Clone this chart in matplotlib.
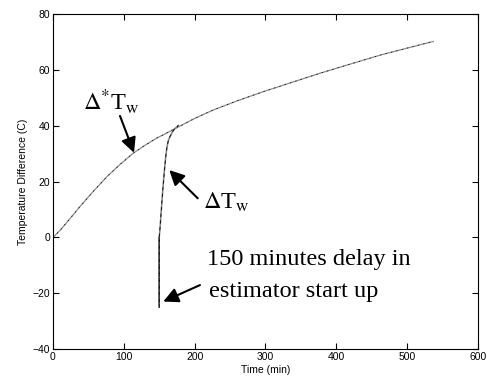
import matplotlib.pyplot as plt

# Delta* T_w (reference curve)
t_ref = [0, 10, 20, 38, 57, 76, 95, 113, 130, 146, 160, 175, 200, 226, 260, 297, 337, 377, 420, 462, 500, 537]
dT_ref = [0, 2.5, 5.5, 11, 16.5, 21.7, 26.2, 30.1, 33.0, 35.5, 37.3, 39.3, 42.6, 45.6, 48.9, 52.2, 55.5, 58.8, 62.1, 65.3, 67.8, 70.2]

# Delta T_w (estimator, started 150 min late)
t_est = [150, 150, 150, 151, 153, 155, 157, 159, 161, 163, 165, 168, 171, 175, 177]
dT_est = [0, -25, 0, 3, 10, 17, 23, 28.5, 32.5, 34.8, 36.0, 37.5, 38.7, 39.6, 40.1]

xticks = [0, 100, 200, 300, 400, 500, 600]
yticks = [-40, -20, 0, 20, 40, 60, 80]

plt.rcParams['font.family'] = ['Liberation Sans', 'DejaVu Sans']

fig = plt.figure(figsize=(4.87, 3.85), dpi=100)
ax = fig.add_axes([0.1088, 0.0935, 0.8727, 0.870])

# gray solid + black dashed overlay, like the printed figure
ax.plot(t_ref, dT_ref, color='0.55', lw=0.9)
ax.plot(t_ref, dT_ref, color='k', lw=0.5, ls=(0, (2, 6)))
ax.plot(t_est, dT_est, color='0.5', lw=1.1)
ax.plot(t_est, dT_est, color='k', lw=0.6, ls=(0, (4, 4)))

ax.set_xlim(0, 600)
ax.set_ylim(-40, 80)
ax.set_xticks(xticks)
ax.set_yticks(yticks)
ax.tick_params(direction='in', length=4, width=0.8, labelsize=7.5,
               top=True, right=True, pad=2)
for s in ax.spines.values():
    s.set_linewidth(0.8)
ax.set_xlabel('Time (min)', fontsize=7.5, labelpad=2)
ax.set_ylabel('Temperature Difference (C)', fontsize=7.5, labelpad=3)

serif = ['Liberation Serif', 'DejaVu Serif']
arrow = dict(arrowstyle='-|>,head_length=0.9,head_width=0.45', color='k', lw=1.5,
             shrinkA=0, shrinkB=0)

ax.annotate('', xy=(114.4, 30.3), xytext=(94.6, 43.5), arrowprops=arrow)
ax.text(42.4, 45.8, r'$\Delta^{*}$T$_{\rm w}$', fontsize=17.5, family=serif,
        va='baseline', ha='left', math_fontfamily='stix')

ax.annotate('', xy=(164.2, 24.1), xytext=(204.3, 14), arrowprops=arrow)
ax.text(212.2, 10.4, r'$\Delta$T$_{\rm w}$', fontsize=17.5, family=serif,
        va='baseline', ha='left', math_fontfamily='stix')

ax.annotate('', xy=(155.7, -23.0), xytext=(207.5, -17.1), arrowprops=arrow)
ax.text(217.4, -9.9, '150 minutes delay in', fontsize=17.5,
        family=serif, va='baseline', ha='left')
ax.text(220, -21.3, 'estimator start up', fontsize=17.5,
        family=serif, va='baseline', ha='left')

fig.savefig('out.png', dpi=100)
